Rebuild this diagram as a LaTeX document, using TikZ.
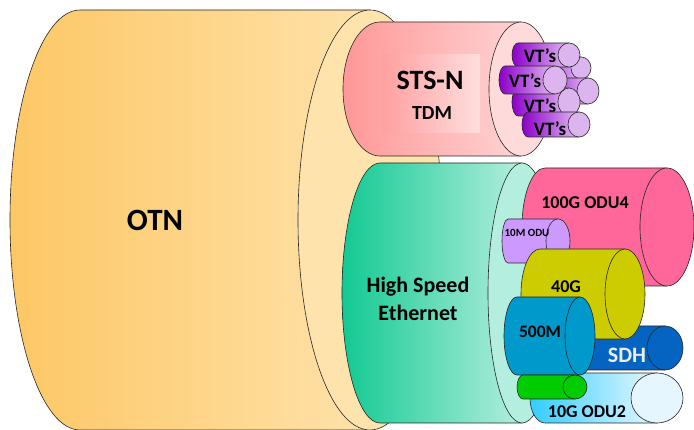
\documentclass[tikz,border=0pt]{standalone}
\usepackage{fontspec}
\setmainfont{Carlito}
\usepackage{tikz}
\usetikzlibrary{calc}

\definecolor{cylline}{HTML}{262626}
\definecolor{otnL}{HTML}{FDC765}
\definecolor{otnR}{HTML}{FEE2AA}
\definecolor{otnFace}{HTML}{FEE3AD}
\definecolor{stsL}{HTML}{FF9797}
\definecolor{stsR}{HTML}{FFD3D3}
\definecolor{stsFace}{HTML}{FFDADA}
\definecolor{stsBoxL}{HTML}{FFA0A0}
\definecolor{stsBoxR}{HTML}{FFDEDE}
\definecolor{vtL}{HTML}{8B00C9}
\definecolor{vtR}{HTML}{E3BDF2}
\definecolor{vtFace}{HTML}{DCB5EE}
\definecolor{ethL}{HTML}{12C992}
\definecolor{ethR}{HTML}{B4EEDD}
\definecolor{ethFace}{HTML}{B3EEDE}
\definecolor{oduFour}{HTML}{FF6699}
\definecolor{oduTenM}{HTML}{CC99FF}
\definecolor{gFourty}{HTML}{CCCC00}
\definecolor{sdhBlue}{HTML}{0563C1}
\definecolor{mFiveHundred}{HTML}{0099CC}
\definecolor{grn}{HTML}{00CC00}
\definecolor{oduTwoL}{HTML}{33CCFF}
\definecolor{oduTwoR}{HTML}{E8F8FF}
\definecolor{oduTwoFace}{HTML}{E6F6FF}

% cylinder lying on its side: left cap x, right cap x, centre y, y radius,
% left x radius, right x radius, body fill, face fill
\newcommand{\drawCyl}[8]{%
  \path[draw=cylline, #7] (#2,#3+#4) -- (#1,#3+#4)
    arc[start angle=90, end angle=270, x radius=#5, y radius=#4] -- (#2,#3-#4) -- cycle;
  \path[draw=cylline, fill=#8] (#2,#3) ellipse[x radius=#6, y radius=#4];
}

\begin{document}
\begin{tikzpicture}[x=1pt, y=-1pt, line width=0.6pt,
  lbl/.style={font=\bfseries\fontsize{#1}{#1}\selectfont, text=black, inner sep=0pt},
  lbl/.default=18]
\useasboundingbox (0,0) rectangle (694,430);

% Draw OTN
\drawCyl{80}{370}{220}{210}{70}{72}{left color=otnL, right color=otnR}{otnFace}
\node[lbl=31] (otn) at (155,220) {OTN};

% Draw STS-N
\drawCyl{380}{521}{89}{67}{37}{32}{left color=stsL, right color=stsR}{stsFace}
\node[left color=stsBoxL, right color=stsBoxR, minimum width=97pt, minimum height=78pt, inner sep=0pt] (stsbox) at (431.5,94) {};
\node[lbl=28] (stsn) at (430,80) {STS-N};
\node[lbl=20] (tdm) at (432,113) {TDM};

% Draw VT's
\drawCyl{535}{581}{68}{11}{6}{10}{left color=vtL, right color=vtR}{vtFace}
\drawCyl{545}{588}{91}{13}{6}{11}{left color=vtL, right color=vtR}{vtFace}
\drawCyl{518}{569}{55}{12}{6}{11}{left color=vtL, right color=vtR}{vtFace}
\node[lbl=19] (vtA) at (540,56) {VT’s};
\drawCyl{518}{569}{102}{14}{6}{11}{left color=vtL, right color=vtR}{vtFace}
\node[lbl=19] (vtC) at (540,106) {VT’s};
\drawCyl{505}{555}{80}{14}{6}{12}{left color=vtL, right color=vtR}{vtFace}
\node[lbl=19] (vtB) at (525,81) {VT’s};
\drawCyl{528}{579}{124.5}{12.5}{6}{11}{left color=vtL, right color=vtR}{vtFace}
\node[lbl=19] (vtD) at (550,129) {VT’s};

% Draw High Speed Ethernet
\drawCyl{380}{522}{293}{130}{38}{34}{left color=ethL, right color=ethR}{ethFace}
\node[lbl=22, align=center, font=\bfseries\fontsize{22}{28}\selectfont] (eth) at (418,299) {High Speed\\Ethernet};

% Draw tributaries
\drawCyl{545}{667}{227}{59}{23}{27}{fill=oduFour}{oduFour}
\node[lbl] (odufour) at (585,203) {100G ODU4};
\drawCyl{508}{558}{241}{22}{6}{12}{fill=oduTenM}{oduTenM}
\node[lbl=11] (odutenm) at (527,233) {10M ODU};
\drawCyl{570}{665}{348}{22}{10}{18}{fill=sdhBlue}{sdhBlue}
\node[lbl=22, text=white!93!black] (sdh) at (627,355) {SDH};
\drawCyl{540}{625}{294}{45}{19}{20}{fill=gFourty}{gFourty}
\node[lbl] (gfourty) at (566,287) {40G};
\drawCyl{545}{657}{398}{25}{15}{26}{left color=oduTwoL, right color=oduTwoR}{oduTwoFace}
\node[lbl] (odutwo) at (587,412) {10G ODU2};
\drawCyl{517}{580}{336}{39}{13}{15}{fill=mFiveHundred}{mFiveHundred}
\node[lbl=17.5] (mfive) at (540,332) {500M};
\drawCyl{523}{575}{387}{12}{6}{12}{fill=grn}{grn}
\end{tikzpicture}
\end{document}
